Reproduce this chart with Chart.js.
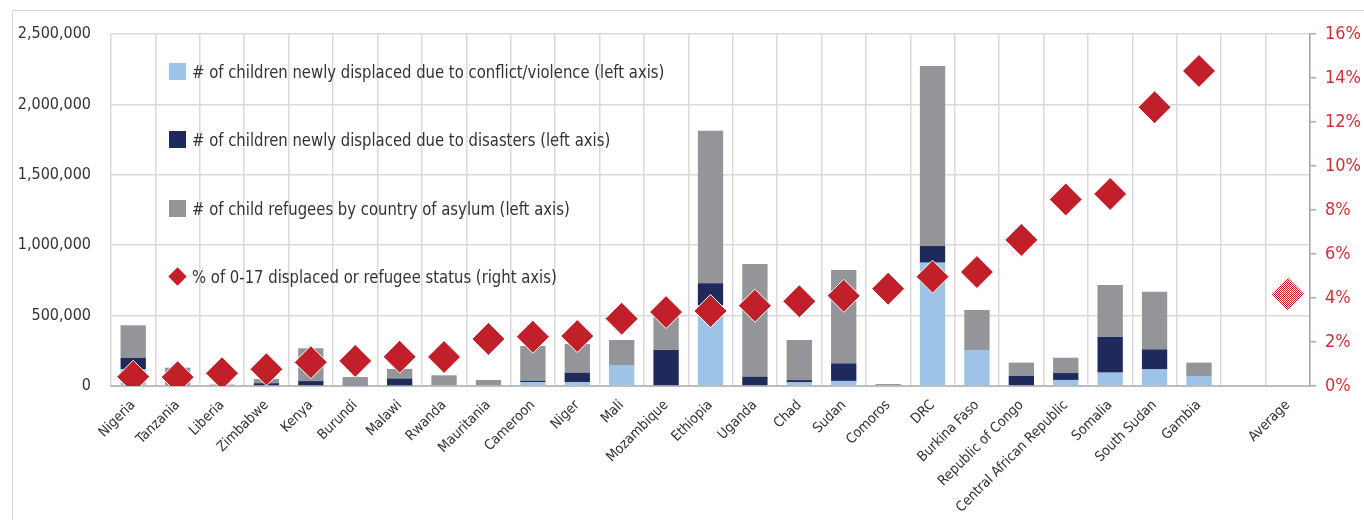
<!DOCTYPE html>
<html>
<head>
<meta charset="utf-8">
<script src="https://cdn.jsdelivr.net/npm/chart.js@4/dist/chart.umd.min.js"></script>
<style>
  html, body { margin: 0; padding: 0; background: #fff; }
  #wrap { position: relative; width: 1364px; height: 520px; overflow: hidden; }
  #frame { position: absolute; left: 12px; top: 10px; width: 1400px; height: 600px; border: 1.5px solid #D4D4D4; box-sizing: border-box; }
  canvas { position: absolute; left: 0; top: 0; }
  .lg { position: absolute; left: 169px; height: 20px; font-family: 'DejaVu Sans Condensed', 'Liberation Sans Narrow', 'Roboto', sans-serif; font-size: 18px; color: #333; white-space: nowrap; }
  .lg .sw { position: absolute; left: 0; top: 1px; width: 17px; height: 17px; }
  .lg .tx { position: absolute; left: 23px; top: 0; line-height: 20px; transform: scaleX(0.917); transform-origin: 0 50%; }
  .lg .dm { position: absolute; left: 2px; top: 3px; width: 13px; height: 13px; background: #C1202A; transform: rotate(45deg); }
</style>
</head>
<body>
<div id="wrap">
  <div id="frame"></div>
  <canvas id="c" width="1364" height="520"></canvas>
  <div id="legend"></div>
</div>
<script>
const categories = ['Nigeria','Tanzania','Liberia','Zimbabwe','Kenya','Burundi','Malawi','Rwanda','Mauritania','Cameroon','Niger','Mali','Mozambique','Ethiopia','Uganda','Chad','Sudan','Comoros','DRC','Burkina Faso','Republic of Congo','Central African Republic','Somalia','South Sudan','Gambia','','Average'];
const conflictDisplaced = [120000,0,0,5000,5000,0,3000,0,0,28000,28000,149000,0,575000,0,26000,36000,0,876000,256000,0,43000,95000,118000,71000,null,null];
const disasterDisplaced = [80000,5000,0,15000,30000,8000,50000,0,0,9000,67000,0,256000,155000,66000,16000,125000,0,118000,0,71000,49000,253000,142000,0,null,null];
const childRefugees = [231000,125000,10000,30000,233000,56000,68000,76000,43000,247000,203000,178000,236000,1083000,800000,285000,663000,14000,1279000,284000,95000,109000,369000,410000,95000,null,null];
const pctDisplaced = [0.42,0.40,0.58,0.76,1.08,1.14,1.33,1.32,2.14,2.24,2.27,3.06,3.36,3.41,3.65,3.85,4.10,4.42,4.97,5.18,6.64,8.48,8.73,12.67,14.32,null,4.18];
const leftTicks = [0,500000,1000000,1500000,2000000,2500000];
const rightTicks = [0,2,4,6,8,10,12,14,16];
const legendLabels = [
  '# of children newly displaced due to conflict/violence (left axis)',
  '# of children newly displaced due to disasters (left axis)',
  '# of child refugees by country of asylum (left axis)',
  '% of 0-17 displaced or refugee status (right axis)'
];

const C_LIGHT = '#9DC3E6', C_NAVY = '#1F2A5C', C_GRAY = '#949598', C_RED = '#C1202A';
const FONT = "'DejaVu Sans Condensed', 'Liberation Sans Narrow', 'Roboto', sans-serif";

// legend (HTML)
const lg = document.getElementById('legend');
const lgY = [62, 130, 199, 267];
const lgSw = [C_LIGHT, C_NAVY, C_GRAY, null];
legendLabels.forEach((t, i) => {
  const d = document.createElement('div');
  d.className = 'lg';
  d.style.top = lgY[i] + 'px';
  d.innerHTML = (lgSw[i] ? '<span class="sw" style="background:' + lgSw[i] + '"></span>' : '<span class="dm"></span>') + '<span class="tx"></span>';
  d.querySelector('.tx').textContent = t;
  lg.appendChild(d);
});

// pattern for the average marker
const pc = document.createElement('canvas');
pc.width = 2; pc.height = 2;
const pctx = pc.getContext('2d');
pctx.fillStyle = '#fff'; pctx.fillRect(0,0,2,2);
pctx.fillStyle = C_RED; pctx.fillRect(0,0,1,1); pctx.fillRect(1,1,1,1);
const avgPattern = document.getElementById('c').getContext('2d').createPattern(pc, 'repeat');
const avgIdx = categories.indexOf('Average');

new Chart(document.getElementById('c'), {
  type: 'bar',
  data: {
    labels: categories,
    datasets: [
      { type: 'line', label: legendLabels[3], data: pctDisplaced, yAxisID: 'y2', showLine: false, order: 0,
        pointStyle: 'rectRot', pointRadius: 16.5, pointHoverRadius: 16.5,
        pointBackgroundColor: ctx => ctx.dataIndex === avgIdx ? avgPattern : C_RED,
        pointBorderColor: ctx => ctx.dataIndex === avgIdx ? 'rgba(0,0,0,0)' : '#ffffff',
        pointBorderWidth: 1 },
      { label: legendLabels[0], data: conflictDisplaced, backgroundColor: C_LIGHT, stack: 's', yAxisID: 'y', order: 1 },
      { label: legendLabels[1], data: disasterDisplaced, backgroundColor: C_NAVY, stack: 's', yAxisID: 'y', order: 1 },
      { label: legendLabels[2], data: childRefugees, backgroundColor: C_GRAY, stack: 's', yAxisID: 'y', order: 1 }
    ]
  },
  options: {
    responsive: false,
    animation: false,
    layout: { padding: { top: 34, left: 0, right: 0, bottom: 0 } },
    datasets: { bar: { barPercentage: 0.57, categoryPercentage: 1 } },
    plugins: { legend: { display: false }, tooltip: { enabled: false } },
    scales: {
      x: {
        stacked: true,
        grid: { color: '#DADADA', lineWidth: 1.5, drawTicks: false, offset: true },
        border: { display: true, color: '#BDBDBD', width: 2 },
        ticks: { autoSkip: false, maxRotation: 45, minRotation: 45, padding: 11, color: '#333', font: { family: FONT, size: 14 } },
        afterFit: s => { s.height = 134; }
      },
      y: {
        position: 'left', stacked: true, min: leftTicks[0], max: leftTicks[leftTicks.length - 1],
        afterBuildTicks: s => { s.ticks = leftTicks.map(v => ({ value: v })); },
        grid: { color: '#DADADA', lineWidth: 1.5, drawTicks: false },
        border: { display: false },
        ticks: { padding: 20, color: '#333', font: { family: FONT, size: 16 }, callback: v => v.toLocaleString('en-US') },
        afterFit: s => { s.width = 111; }
      },
      y2: {
        position: 'right', min: rightTicks[0], max: rightTicks[rightTicks.length - 1],
        afterBuildTicks: s => { s.ticks = rightTicks.map(v => ({ value: v })); },
        grid: { drawOnChartArea: false, color: '#A8A8A8', tickLength: 6, lineWidth: 1.5 },
        border: { display: true, color: '#A8A8A8', width: 1.5 },
        ticks: { padding: 9, color: '#D0303A', font: { family: FONT, size: 18 }, callback: v => v + '%' },
        afterFit: s => { s.width = 54; }
      }
    }
  }
});
</script>
</body>
</html>
